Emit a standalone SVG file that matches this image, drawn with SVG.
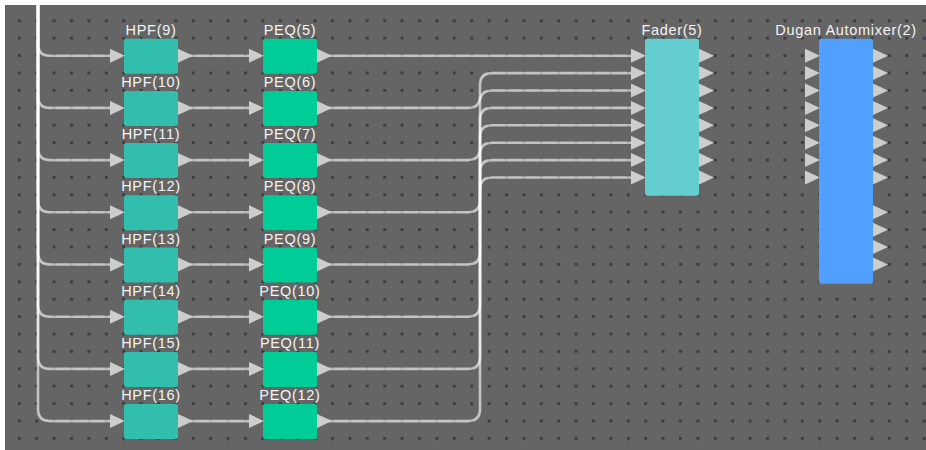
<svg xmlns="http://www.w3.org/2000/svg" xmlns:xlink="http://www.w3.org/1999/xlink" width="926" height="450" viewBox="0 0 926 450">
<style>
.lbl{font-family:"Liberation Sans",Arial,sans-serif;font-size:14.5px;fill:#f4f4f4;text-anchor:middle;letter-spacing:0.7px}
.wire{fill:none;stroke:#ffffff;stroke-opacity:0.62;stroke-width:2.6}
.arr{fill:#cdcdcd}
.hpf{fill:#31bead}
.peq{fill:#00cc97}
.fader{fill:#64cdcf}
.dugan{fill:#519fff}
</style>
<defs>
<pattern id="grid" patternUnits="userSpaceOnUse" x="17.8" y="19.3" width="17.4" height="17.4">
<rect x="0" y="0" width="3" height="3" fill="#3e3e3e"/>
</pattern>
<path id="ar" class="arr" d="M0,-7 L15,0 L0,7 Z"/>
</defs>
<rect x="0" y="0" width="926" height="450" fill="#656565"/>
<rect x="0" y="0" width="926" height="450" fill="url(#grid)"/>
<rect x="0" y="0" width="926" height="5" fill="#ffffff"/>
<rect x="0" y="0" width="5" height="450" fill="#ffffff"/>

<g id="connectors">
<path class="wire" d="M38,5 V43.7 Q38,55.7 50,55.7 H112"/>
<path class="wire" d="M38,5 V95.9 Q38,107.9 50,107.9 H112"/>
<path class="wire" d="M38,5 V148.1 Q38,160.1 50,160.1 H112"/>
<path class="wire" d="M38,5 V200.3 Q38,212.3 50,212.3 H112"/>
<path class="wire" d="M38,5 V252.5 Q38,264.5 50,264.5 H112"/>
<path class="wire" d="M38,5 V304.7 Q38,316.7 50,316.7 H112"/>
<path class="wire" d="M38,5 V356.9 Q38,368.9 50,368.9 H112"/>
<path class="wire" d="M38,5 V409.1 Q38,421.1 50,421.1 H112"/>

<path class="wire" d="M190,55.7 H251"/>
<path class="wire" d="M190,107.9 H251"/>
<path class="wire" d="M190,160.1 H251"/>
<path class="wire" d="M190,212.3 H251"/>
<path class="wire" d="M190,264.5 H251"/>
<path class="wire" d="M190,316.7 H251"/>
<path class="wire" d="M190,368.9 H251"/>
<path class="wire" d="M190,421.1 H251"/>

<path class="wire" d="M329,55.7 H633"/>
<path class="wire" d="M329,107.9 H468 Q480,107.9 480,95.9 V85.1 Q480,73.1 492,73.1 H633"/>
<path class="wire" d="M329,160.1 H468 Q480,160.1 480,148.1 V102.5 Q480,90.5 492,90.5 H633"/>
<path class="wire" d="M329,212.3 H468 Q480,212.3 480,200.3 V119.9 Q480,107.9 492,107.9 H633"/>
<path class="wire" d="M329,264.5 H468 Q480,264.5 480,252.5 V137.3 Q480,125.3 492,125.3 H633"/>
<path class="wire" d="M329,316.7 H468 Q480,316.7 480,304.7 V154.7 Q480,142.7 492,142.7 H633"/>
<path class="wire" d="M329,368.9 H468 Q480,368.9 480,356.9 V172.1 Q480,160.1 492,160.1 H633"/>
<path class="wire" d="M329,421.1 H468 Q480,421.1 480,409.1 V189.5 Q480,177.5 492,177.5 H633"/>
</g>

<g id="hpf9"><rect class="hpf" x="124" y="38.7" width="54" height="35" rx="2"/><use href="#ar" x="110" y="55.7"/><use href="#ar" x="178" y="55.7"/><text class="lbl" x="151" y="34.7">HPF(9)</text></g>
<g id="hpf10"><rect class="hpf" x="124" y="90.9" width="54" height="35" rx="2"/><use href="#ar" x="110" y="107.9"/><use href="#ar" x="178" y="107.9"/><text class="lbl" x="151" y="86.9">HPF(10)</text></g>
<g id="hpf11"><rect class="hpf" x="124" y="143.1" width="54" height="35" rx="2"/><use href="#ar" x="110" y="160.1"/><use href="#ar" x="178" y="160.1"/><text class="lbl" x="151" y="139.1">HPF(11)</text></g>
<g id="hpf12"><rect class="hpf" x="124" y="195.3" width="54" height="35" rx="2"/><use href="#ar" x="110" y="212.3"/><use href="#ar" x="178" y="212.3"/><text class="lbl" x="151" y="191.3">HPF(12)</text></g>
<g id="hpf13"><rect class="hpf" x="124" y="247.5" width="54" height="35" rx="2"/><use href="#ar" x="110" y="264.5"/><use href="#ar" x="178" y="264.5"/><text class="lbl" x="151" y="243.5">HPF(13)</text></g>
<g id="hpf14"><rect class="hpf" x="124" y="299.7" width="54" height="35" rx="2"/><use href="#ar" x="110" y="316.7"/><use href="#ar" x="178" y="316.7"/><text class="lbl" x="151" y="295.7">HPF(14)</text></g>
<g id="hpf15"><rect class="hpf" x="124" y="351.9" width="54" height="35" rx="2"/><use href="#ar" x="110" y="368.9"/><use href="#ar" x="178" y="368.9"/><text class="lbl" x="151" y="347.9">HPF(15)</text></g>
<g id="hpf16"><rect class="hpf" x="124" y="404.1" width="54" height="35" rx="2"/><use href="#ar" x="110" y="421.1"/><use href="#ar" x="178" y="421.1"/><text class="lbl" x="151" y="400.1">HPF(16)</text></g>

<g id="peq5"><rect class="peq" x="263" y="38.7" width="54" height="35" rx="2"/><use href="#ar" x="249" y="55.7"/><use href="#ar" x="317" y="55.7"/><text class="lbl" x="290" y="34.7">PEQ(5)</text></g>
<g id="peq6"><rect class="peq" x="263" y="90.9" width="54" height="35" rx="2"/><use href="#ar" x="249" y="107.9"/><use href="#ar" x="317" y="107.9"/><text class="lbl" x="290" y="86.9">PEQ(6)</text></g>
<g id="peq7"><rect class="peq" x="263" y="143.1" width="54" height="35" rx="2"/><use href="#ar" x="249" y="160.1"/><use href="#ar" x="317" y="160.1"/><text class="lbl" x="290" y="139.1">PEQ(7)</text></g>
<g id="peq8"><rect class="peq" x="263" y="195.3" width="54" height="35" rx="2"/><use href="#ar" x="249" y="212.3"/><use href="#ar" x="317" y="212.3"/><text class="lbl" x="290" y="191.3">PEQ(8)</text></g>
<g id="peq9"><rect class="peq" x="263" y="247.5" width="54" height="35" rx="2"/><use href="#ar" x="249" y="264.5"/><use href="#ar" x="317" y="264.5"/><text class="lbl" x="290" y="243.5">PEQ(9)</text></g>
<g id="peq10"><rect class="peq" x="263" y="299.7" width="54" height="35" rx="2"/><use href="#ar" x="249" y="316.7"/><use href="#ar" x="317" y="316.7"/><text class="lbl" x="290" y="295.7">PEQ(10)</text></g>
<g id="peq11"><rect class="peq" x="263" y="351.9" width="54" height="35" rx="2"/><use href="#ar" x="249" y="368.9"/><use href="#ar" x="317" y="368.9"/><text class="lbl" x="290" y="347.9">PEQ(11)</text></g>
<g id="peq12"><rect class="peq" x="263" y="404.1" width="54" height="35" rx="2"/><use href="#ar" x="249" y="421.1"/><use href="#ar" x="317" y="421.1"/><text class="lbl" x="290" y="400.1">PEQ(12)</text></g>

<g id="fader5">
<rect class="fader" x="645" y="38.7" width="54" height="157" rx="2"/>
<use href="#ar" x="631" y="55.7"/><use href="#ar" x="631" y="73.1"/><use href="#ar" x="631" y="90.5"/><use href="#ar" x="631" y="107.9"/>
<use href="#ar" x="631" y="125.3"/><use href="#ar" x="631" y="142.7"/><use href="#ar" x="631" y="160.1"/><use href="#ar" x="631" y="177.5"/>
<use href="#ar" x="699" y="55.7"/><use href="#ar" x="699" y="73.1"/><use href="#ar" x="699" y="90.5"/><use href="#ar" x="699" y="107.9"/>
<use href="#ar" x="699" y="125.3"/><use href="#ar" x="699" y="142.7"/><use href="#ar" x="699" y="160.1"/><use href="#ar" x="699" y="177.5"/>
<text class="lbl" x="672" y="34.7">Fader(5)</text>
</g>

<g id="dugan2">
<rect class="dugan" x="819" y="38.7" width="54" height="245" rx="2"/>
<use href="#ar" x="805" y="55.7"/><use href="#ar" x="805" y="73.1"/><use href="#ar" x="805" y="90.5"/><use href="#ar" x="805" y="107.9"/>
<use href="#ar" x="805" y="125.3"/><use href="#ar" x="805" y="142.7"/><use href="#ar" x="805" y="160.1"/><use href="#ar" x="805" y="177.5"/>
<use href="#ar" x="873" y="55.7"/><use href="#ar" x="873" y="73.1"/><use href="#ar" x="873" y="90.5"/><use href="#ar" x="873" y="107.9"/>
<use href="#ar" x="873" y="125.3"/><use href="#ar" x="873" y="142.7"/><use href="#ar" x="873" y="160.1"/><use href="#ar" x="873" y="177.5"/>
<use href="#ar" x="873" y="212.3"/><use href="#ar" x="873" y="229.7"/><use href="#ar" x="873" y="247.1"/><use href="#ar" x="873" y="264.5"/>
<text class="lbl" x="846" y="34.7">Dugan Automixer(2)</text>
</g>
</svg>
